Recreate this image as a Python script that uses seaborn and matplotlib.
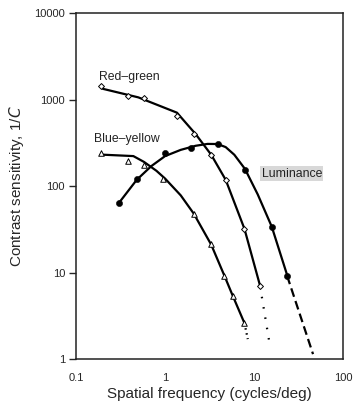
import numpy as np
import pandas as pd
import matplotlib
matplotlib.use("Agg")
import matplotlib.pyplot as plt
import seaborn as sns

# measured points
rg_x = [0.19, 0.38, 0.58, 1.36, 2.12, 3.3, 4.85, 7.8, 11.7]
rg_y = [1450, 1110, 1030, 654, 404, 231, 117, 32, 6.9]
by_x = [0.19, 0.38, 0.58, 0.95, 2.12, 3.3, 4.6, 5.8, 7.8]
by_y = [244, 197, 175, 120, 47, 21.3, 9.2, 5.35, 2.6]
lum_x = [0.3, 0.48, 1.0, 1.96, 3.94, 7.9, 15.8, 23.5]
lum_y = [63.6, 120, 238, 272, 310, 155, 33.6, 9.2]

# fitted curves
rg_fit_x = [0.2, 0.5, 1.36, 2.2, 3.3, 4.8, 7.8, 11.7]
rg_fit_y = [1330, 1060, 705, 400, 230, 118, 32, 7]
by_fit_x = [0.19, 0.44, 0.58, 0.8, 1.0, 1.5, 2.1, 3.3, 4.6, 5.8, 7.8]
by_fit_y = [231, 222, 190, 150, 122, 78, 48, 21, 9.4, 5.3, 2.6]
lum_fit_x = [0.3, 0.48, 0.7, 1.0, 1.5, 2.2, 3.0, 3.9, 4.8, 6.0, 7.9, 11, 15.8, 23.5]
lum_fit_y = [63, 118, 170, 222, 262, 292, 307, 306, 282, 230, 158, 80, 34, 9.4]

# extrapolated tails
by_tail_x = [7.8, 8.5]
by_tail_y = [2.6, 1.7]
rg_tail_x = [11.7, 14.8]
rg_tail_y = [6.9, 1.6]
lum_tail_x = [23.5, 46]
lum_tail_y = [9.2, 1.14]

sns.set_style("white")
plt.rcParams['font.family'] = ['Liberation Sans', 'DejaVu Sans']

fig = plt.figure(figsize=(3.54, 4.08), dpi=100)
ax = fig.add_axes([0.215, 0.12, 0.754, 0.848])

lw = 1.6
fits = [(rg_fit_x, rg_fit_y), (by_fit_x, by_fit_y), (lum_fit_x, lum_fit_y)]
for fx, fy in fits:
    sns.lineplot(x=fx, y=fy, ax=ax, color="black", linewidth=lw, sort=False)

sns.lineplot(x=by_tail_x, y=by_tail_y, ax=ax, color="black", linewidth=lw,
             linestyle=(0, (0.7, 1.6)), sort=False)
sns.lineplot(x=rg_tail_x, y=rg_tail_y, ax=ax, color="black", linewidth=lw,
             linestyle=(0, (0.7, 4.0)), sort=False)
sns.lineplot(x=lum_tail_x, y=lum_tail_y, ax=ax, color="black", linewidth=lw,
             linestyle=(0, (4.0, 2.0)), sort=False)

sns.scatterplot(x=rg_x, y=rg_y, ax=ax, marker="D", s=9, facecolor="white",
                edgecolor="black", linewidth=0.7, zorder=5)
sns.scatterplot(x=by_x, y=by_y, ax=ax, marker="^", s=16, facecolor="white",
                edgecolor="black", linewidth=0.7, zorder=5)
sns.scatterplot(x=lum_x, y=lum_y, ax=ax, marker="o", s=20, color="black",
                edgecolor="black", zorder=5)

ax.set_xscale("log")
ax.set_yscale("log")
ax.set_xlim(0.1, 100)
ax.set_ylim(1, 10000)

ax.set_xticks([0.1, 1, 10, 100])
ax.set_xticklabels(["0.1", "1", "10", "100"], fontsize=8)
ax.set_yticks([1, 10, 100, 1000, 10000])
ax.set_yticklabels(["1", "10", "100", "1000", "10000"], fontsize=8)
ax.minorticks_off()
ax.tick_params(axis="x", direction="in", length=5, width=1, pad=10)
ax.tick_params(axis="y", direction="out", length=5, width=1, pad=3, left=True)

for sp in ax.spines.values():
    sp.set_color("#222222")
    sp.set_linewidth(1.1)

ax.set_xlabel("Spatial frequency (cycles/deg)", fontsize=11, labelpad=3)
ax.set_ylabel("Contrast sensitivity, 1/$\\mathit{C}$", fontsize=11, labelpad=6)

ax.text(0.18, 1700, "Red\u2013green", fontsize=8.8, color="#222222")
ax.text(0.16, 320, "Blue\u2013yellow", fontsize=8.8, color="#222222")
ax.text(12.2, 128, "Luminance", fontsize=8.8, color="#222222",
        bbox=dict(facecolor="#d8d8d8", edgecolor="none", pad=1))

fig.savefig("out.png", dpi=100)
